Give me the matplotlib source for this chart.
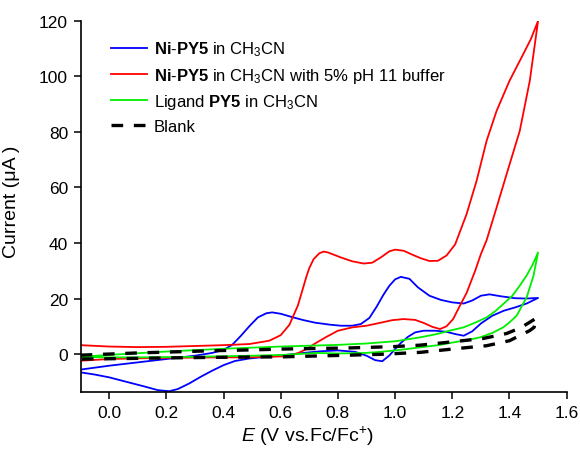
import matplotlib
matplotlib.use("Agg")
import matplotlib.pyplot as plt

plt.rcParams['font.family'] = ['Liberation Sans', 'DejaVu Sans']
plt.rcParams['mathtext.fontset'] = 'custom'
plt.rcParams['mathtext.rm'] = 'Liberation Sans'
plt.rcParams['mathtext.it'] = 'Liberation Sans:italic'
plt.rcParams['mathtext.bf'] = 'Liberation Sans:bold'

# Ni-PY5 in CH3CN (ida y vuelta del barrido)
blue_E = [-0.1, 0.0, 0.1, 0.2, 0.3, 0.36, 0.40, 0.43, 0.46, 0.49, 0.52, 0.55, 0.57, 0.60,
          0.64, 0.68, 0.72, 0.77, 0.81, 0.85, 0.88, 0.91, 0.935, 0.96, 0.98, 1.00, 1.02,
          1.05, 1.08, 1.12, 1.16, 1.20, 1.24, 1.27, 1.30, 1.33, 1.37, 1.42, 1.46, 1.50,
          1.46, 1.42, 1.38, 1.34, 1.30, 1.27, 1.24, 1.21, 1.18, 1.14, 1.10, 1.07, 1.045,
          1.02, 1.00, 0.98, 0.955, 0.93, 0.90, 0.86, 0.80, 0.74, 0.68, 0.61, 0.55, 0.49,
          0.44, 0.40, 0.36, 0.32, 0.28, 0.24, 0.21, 0.17, 0.12, 0.06, 0.0, -0.05, -0.1]
blue_I = [-5.6, -4.2, -3.0, -1.8, -0.6, 0.4, 1.5, 3.3, 6.5, 10.0, 13.2, 14.7, 15.0, 14.5,
          13.3, 12.2, 11.3, 10.6, 10.2, 10.2, 10.8, 13.0, 17.0, 21.5, 24.6, 26.9, 27.8,
          27.1, 24.0, 21.0, 19.5, 18.6, 18.2, 19.3, 21.0, 21.5, 20.8, 20.1, 20.0, 20.2,
          18.2, 16.8, 15.6, 13.8, 11.0, 8.2, 6.6, 7.2, 8.0, 8.4, 8.4, 7.8, 6.2,
          4.0, 1.8, -0.5, -2.6, -2.2, -0.6, 0.8, 1.3, 1.0, 0.4, -0.4, -1.0, -1.6,
          -2.5, -4.0, -6.0, -8.2, -10.6, -12.6, -13.4, -13.0, -11.6, -10.0, -8.4, -7.4, -6.6]

# Ni-PY5 con 5% de tampón pH 11
red_E = [-0.1, 0.0, 0.1, 0.2, 0.3, 0.4, 0.49, 0.56, 0.60, 0.63, 0.66, 0.69, 0.70, 0.715,
         0.735, 0.75, 0.765, 0.78, 0.81, 0.85, 0.89, 0.92, 0.95, 0.98, 1.00, 1.03, 1.06,
         1.09, 1.12, 1.15, 1.18, 1.21, 1.25, 1.285, 1.32, 1.355, 1.40, 1.448, 1.475, 1.50,
         1.471, 1.436, 1.39, 1.355, 1.32, 1.30, 1.28, 1.25, 1.227, 1.203, 1.18, 1.157,
         1.13, 1.10, 1.07, 1.03, 0.99, 0.95, 0.90, 0.85, 0.80, 0.76, 0.72, 0.69, 0.66,
         0.62, 0.56, 0.48, 0.38, 0.28, 0.18, 0.08, 0.0, -0.1]
red_I = [3.2, 2.7, 2.5, 2.6, 2.9, 3.2, 3.6, 4.8, 6.8, 10.5, 17.5, 28.0, 31.0, 34.2,
         36.3, 36.9, 36.6, 36.0, 34.8, 33.4, 32.6, 32.9, 34.8, 37.0, 37.6, 37.2, 35.8,
         34.5, 33.5, 33.6, 35.5, 39.5, 50.4, 62.4, 76.8, 87.6, 98.4, 108.0, 113.5, 120.0,
         98.4, 80.4, 64.8, 52.8, 41.0, 36.0, 30.0, 22.0, 17.5, 12.6, 10.0, 9.0,
         9.8, 11.2, 12.3, 12.6, 12.2, 11.3, 10.2, 9.6, 8.4, 6.2, 3.8, 1.8, 0.3,
         -0.8, -1.0, -1.2, -1.2, -1.3, -1.4, -1.6, -1.8, -2.4]

# Ligando PY5
green_E = [-0.1, 0.0, 0.1, 0.2, 0.3, 0.4, 0.5, 0.6, 0.7, 0.8, 0.9, 1.0, 1.087, 1.146,
           1.19, 1.239, 1.28, 1.32, 1.35, 1.378, 1.41, 1.436, 1.46, 1.48, 1.50,
           1.484, 1.46, 1.425, 1.40, 1.378, 1.34, 1.297, 1.25, 1.204, 1.15, 1.087,
           1.017, 0.95, 0.90, 0.80, 0.725, 0.61, 0.5, 0.4, 0.3, 0.2, 0.1, 0.0, -0.1]
green_I = [-1.0, -0.3, 0.3, 0.9, 1.4, 1.9, 2.3, 2.7, 3.0, 3.3, 3.8, 4.6, 6.0, 7.2,
           8.4, 9.6, 11.3, 13.2, 15.4, 18.0, 21.0, 24.6, 28.3, 32.0, 36.6,
           28.2, 20.4, 13.8, 11.4, 9.6, 7.6, 6.0, 5.0, 4.2, 3.2, 2.4,
           1.5, 0.8, 0.4, 0.2, 0.4, -0.3, -0.6, -0.8, -1.0, -1.1, -1.2, -1.2, -1.1]

# Blanco
blank_E = [-0.1, 0.0, 0.1, 0.2, 0.3, 0.364, 0.5, 0.61, 0.842, 1.0, 1.087, 1.2, 1.308,
           1.39, 1.44, 1.495, 1.486, 1.47, 1.40, 1.32, 1.239, 1.087, 0.95, 0.842,
           0.61, 0.364, 0.2, 0.0, -0.1]
blank_I = [-0.4, 0.0, 0.4, 0.7, 1.0, 1.2, 1.5, 1.8, 2.2, 2.7, 3.2, 4.4, 5.6,
           7.4, 9.5, 13.0, 9.6, 8.4, 4.8, 3.0, 2.2, 0.6, -0.1, -0.4,
           -1.0, -1.2, -1.4, -1.7, -1.8]

x_ticks = [0.0, 0.2, 0.4, 0.6, 0.8, 1.0, 1.2, 1.4, 1.6]
y_ticks = [0, 20, 40, 60, 80, 100, 120]

labels = [r"$\mathbf{Ni}$-$\mathbf{PY5}$ in CH$_3$CN",
          r"$\mathbf{Ni}$-$\mathbf{PY5}$ in CH$_3$CN with 5% pH 11 buffer",
          r"Ligand $\mathbf{PY5}$ in CH$_3$CN",
          "Blank"]

fig = plt.figure(figsize=(5.8, 4.56), dpi=100)
ax = fig.add_axes([0.139, 0.138, 0.838, 0.814])

ax.plot(blue_E, blue_I, color='#0000ff', lw=1.3, label=labels[0], solid_joinstyle='round')
ax.plot(red_E, red_I, color='#ff0000', lw=1.3, label=labels[1], solid_joinstyle='round')
ax.plot(green_E, green_I, color='#00ee00', lw=1.3, label=labels[2], solid_joinstyle='round')
ax.plot(blank_E, blank_I, color='black', lw=2.4, dashes=(3.5, 3.2), label=labels[3])

ax.set_xlim(-0.1, 1.6)
ax.set_ylim(-13.7, 120)
ax.set_xticks(x_ticks)
ax.set_xticklabels([f"{t:.1f}" for t in x_ticks])
ax.set_yticks(y_ticks)

ax.spines['top'].set_visible(False)
ax.spines['right'].set_visible(False)
for s in ['left', 'bottom']:
    ax.spines[s].set_linewidth(1.2)
ax.tick_params(direction='out', length=5, width=1.1, labelsize=12.5, pad=4)

ax.set_xlabel(r"$E$ (V vs.Fc/Fc$^{+}$)", fontsize=14)
ax.set_ylabel("Current (μA )", fontsize=14)
ax.xaxis.set_label_coords(0.466, -0.085)
ax.yaxis.set_label_coords(-0.125, 0.515)

ax.legend(loc='upper left', bbox_to_anchor=(0.062, 0.95), frameon=False, fontsize=12,
          handlelength=2.15, handletextpad=0.42, labelspacing=0.45,
          borderpad=0, borderaxespad=0)

fig.savefig("out.png", dpi=100)
